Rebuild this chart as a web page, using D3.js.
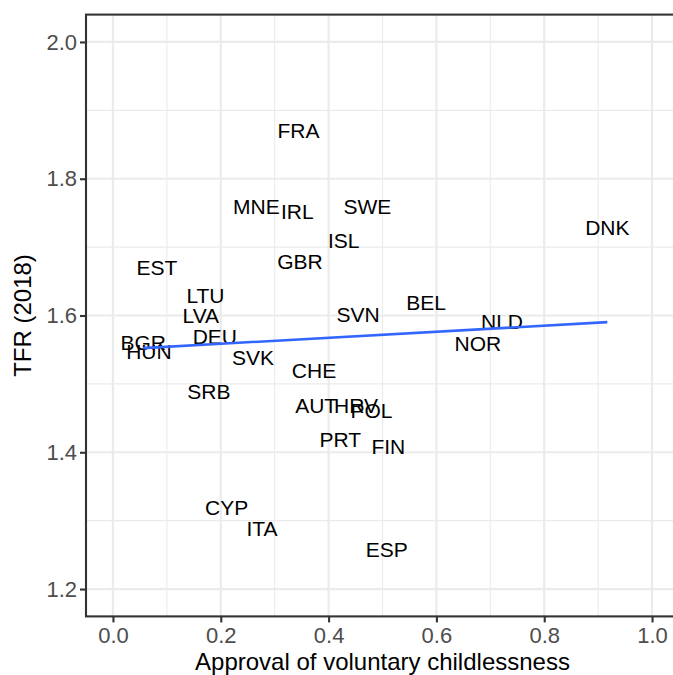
<!DOCTYPE html>
<html>
<head>
<meta charset="utf-8">
<script src="https://cdn.jsdelivr.net/npm/d3@7"></script>
<style>
  html, body { margin: 0; padding: 0; background: #fff; }
  svg { display: block; }
  text { font-family: "Liberation Sans", Arial, Helvetica, sans-serif; }
</style>
</head>
<body>
<svg id="chart" width="673" height="675"></svg>
<script>
// ---- data ----
const countries = ["FRA","MNE","IRL","SWE","ISL","GBR","EST","LTU","LVA","DEU","BGR","HUN","SVK","SRB","SVN","BEL","CHE","AUT","HRV","POL","PRT","FIN","CYP","ITA","ESP","NLD","NOR","DNK"];
const approval = [0.344,0.266,0.342,0.472,0.428,0.347,0.0816,0.1716,0.163,0.189,0.056,0.0668,0.2597,0.178,0.4545,0.581,0.373,0.377,0.451,0.4796,0.4217,0.5108,0.211,0.2764,0.5078,0.7217,0.6768,0.917];
const tfr = [1.870,1.760,1.752,1.760,1.710,1.679,1.671,1.629,1.600,1.570,1.560,1.548,1.539,1.489,1.601,1.619,1.520,1.469,1.469,1.461,1.419,1.409,1.3195,1.289,1.258,1.5915,1.559,1.729];
const xTicks = [0.0,0.2,0.4,0.6,0.8,1.0];
const xMinor = [0.1,0.3,0.5,0.7,0.9];
const yTicks = [1.2,1.4,1.6,1.8,2.0];
const yMinor = [1.3,1.5,1.7,1.9];
const xLimits = [0,1];
const yLimits = [1.2,2.0];

const data = countries.map((c,i)=>({c, x: approval[i], y: tfr[i]}));

// ---- layout ----
const svg = d3.select("#chart");
const panel = {left: 86, right: 679, top: 14.6, bottom: 616.4};
const xExp = (xLimits[1]-xLimits[0])*0.05, yExp = (yLimits[1]-yLimits[0])*0.05;
const x = d3.scaleLinear().domain([xLimits[0]-xExp, xLimits[1]+xExp]).range([panel.left, panel.right]);
const y = d3.scaleLinear().domain([yLimits[0]-yExp, yLimits[1]+yExp]).range([panel.bottom, panel.top]);
const grid = "#EBEBEB", dark = "#333333";

const g = svg.append("g");
// minor grid
g.selectAll(".xmin").data(xMinor).join("line")
  .attr("x1", d=>x(d)).attr("x2", d=>x(d)).attr("y1", panel.top).attr("y2", panel.bottom)
  .attr("stroke", grid).attr("stroke-width", 1.1);
g.selectAll(".ymin").data(yMinor).join("line")
  .attr("x1", panel.left).attr("x2", panel.right).attr("y1", d=>y(d)).attr("y2", d=>y(d))
  .attr("stroke", grid).attr("stroke-width", 1.1);
// major grid
g.selectAll(".xmaj").data(xTicks).join("line")
  .attr("x1", d=>x(d)).attr("x2", d=>x(d)).attr("y1", panel.top).attr("y2", panel.bottom)
  .attr("stroke", grid).attr("stroke-width", 2.2);
g.selectAll(".ymaj").data(yTicks).join("line")
  .attr("x1", panel.left).attr("x2", panel.right).attr("y1", d=>y(d)).attr("y2", d=>y(d))
  .attr("stroke", grid).attr("stroke-width", 2.2);

// labels
svg.append("g").selectAll("text").data(data).join("text")
  .attr("x", d=>x(d.x)).attr("y", d=>y(d.y)).attr("dy", "0.36em")
  .attr("text-anchor", "middle").attr("font-size", 21).attr("fill", "#000")
  .text(d=>d.c);

// linear fit (OLS) over the data range
const mx = d3.mean(approval), my = d3.mean(tfr);
const sxy = d3.sum(data, d=>(d.x-mx)*(d.y-my)), sxx = d3.sum(data, d=>(d.x-mx)**2);
const slope = sxy/sxx, icpt = my - slope*mx;
const [x0, x1] = d3.extent(approval);
const fit = [x0, x1].map(v=>({x:v, y: icpt + slope*v}));
svg.append("path").datum(fit)
  .attr("d", d3.line().x(d=>x(d.x)).y(d=>y(d.y)))
  .attr("fill", "none").attr("stroke", "#3366FF").attr("stroke-width", 2.6);

// panel border
svg.append("rect").attr("x", panel.left).attr("y", panel.top)
  .attr("width", panel.right-panel.left).attr("height", panel.bottom-panel.top)
  .attr("fill", "none").attr("stroke", dark).attr("stroke-width", 2.1);

// axes
const xAxis = svg.append("g").attr("transform", `translate(0,${panel.bottom})`)
  .call(d3.axisBottom(x).tickValues(xTicks).tickFormat(d3.format(".1f")).tickSize(6).tickPadding(5));
const yAxis = svg.append("g").attr("transform", `translate(${panel.left},0)`)
  .call(d3.axisLeft(y).tickValues(yTicks).tickFormat(d3.format(".1f")).tickSize(6).tickPadding(3));
[xAxis, yAxis].forEach(a=>{
  a.select(".domain").remove();
  a.selectAll(".tick line").attr("stroke", dark).attr("stroke-width", 2.1);
  a.selectAll(".tick text").attr("fill", "#4D4D4D").attr("font-size", 22)
    .attr("font-family", "'Liberation Sans', Arial, Helvetica, sans-serif");
});

// axis titles
svg.append("text").attr("x", (panel.left+panel.right)/2).attr("y", 670)
  .attr("text-anchor", "middle").attr("font-size", 24).attr("fill", "#000")
  .text("Approval of voluntary childlessness");
svg.append("text").attr("transform", `translate(31,${(panel.top+panel.bottom)/2}) rotate(-90)`)
  .attr("text-anchor", "middle").attr("font-size", 24).attr("fill", "#000")
  .text("TFR (2018)");
</script>
</body>
</html>
